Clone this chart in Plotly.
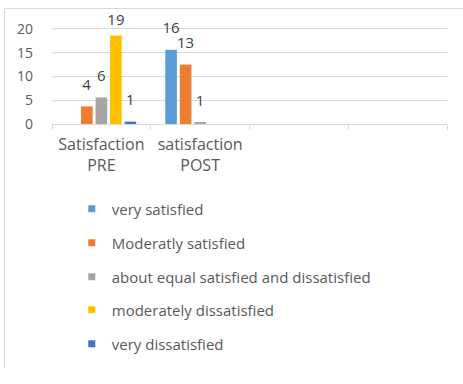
import plotly.graph_objects as go

categories = ["Satisfaction<br>PRE", "satisfaction<br>POST", " ", "  "]
series_names = ["very satisfied", "Moderatly satisfied",
                "about equal satisfied and dissatisfied",
                "moderately dissatisfied", "very dissatisfied"]
series_colors = ["#5B9BD5", "#ED7D31", "#A5A5A5", "#FFC000", "#4472C4"]
# bar heights, per series: [PRE, POST, blank, blank]
values = [
    [None, 15.6, None, None],
    [3.7, 12.5, None, None],
    [5.6, 0.4, None, None],
    [18.6, None, None, None],
    [0.5, None, None, None],
]
# data labels as printed on the chart
labels = [
    ["", "16", "", ""],
    ["4", "13", "", ""],
    ["6", "1", "", ""],
    ["19", "", "", ""],
    ["1", "", "", ""],
]
y_ticks = [0, 5, 10, 15, 20]

LABEL_LIFT = 2.0   # label raised above bar end (data units)
LABEL_CEIL = 19.3  # labels kept inside the chart area, like the original
FONT = "Open Sans"
legend_ids = ["legend", "legend2", "legend3", "legend4", "legend5"]
legend_y = [0.4557, 0.3672, 0.2786, 0.1927, 0.1042]  # container coords

fig = go.Figure()
for i, name in enumerate(series_names):
    fig.add_trace(go.Bar(
        x=categories, y=values[i], name=name,
        marker=dict(color=series_colors[i], line=dict(width=0)),
        offsetgroup=str(i), showlegend=False, hoverinfo="skip",
    ))
    lifted = [None if v is None else min(v + LABEL_LIFT, LABEL_CEIL)
              for v in values[i]]
    fig.add_trace(go.Bar(
        x=categories, y=lifted, name=name + " labels",
        marker=dict(color="rgba(0,0,0,0)", line=dict(width=0)),
        offsetgroup=str(i), showlegend=False, hoverinfo="skip",
        text=labels[i], textposition="outside", cliponaxis=False,
        constraintext="none",
        textfont=dict(family=FONT, size=15, color="#404040"),
    ))
    fig.add_trace(go.Scatter(
        x=[None], y=[None], mode="markers", name=name,
        marker=dict(symbol="square", size=7, color=series_colors[i]),
        legend=legend_ids[i], showlegend=True, hoverinfo="skip",
    ))

legend_layout = {}
for i, lid in enumerate(legend_ids):
    legend_layout[lid] = dict(
        xref="container", yref="container",
        x=0.155, xanchor="left", y=legend_y[i], yanchor="middle",
        font=dict(family=FONT, size=15, color="#595959"),
        bgcolor="rgba(0,0,0,0)", borderwidth=0,
    )

fig.update_layout(
    width=463, height=384,
    margin=dict(l=52, r=16, t=17, b=260, pad=0, autoexpand=False),
    paper_bgcolor="white", plot_bgcolor="white",
    barmode="group", bargap=0.265, bargroupgap=0.2,
    font=dict(family=FONT, size=13, color="#595959"),
    showlegend=True,
    xaxis=dict(
        type="category", categoryorder="array", categoryarray=categories,
        showline=True, linecolor="#D9D9D9", linewidth=1,
        ticks="outside", tickson="boundaries", ticklen=5, tickcolor="#D9D9D9",
        showgrid=False, zeroline=False, automargin=False,
        ticklabelstandoff=6,
        tickfont=dict(family=FONT, size=16, color="#595959"),
    ),
    yaxis=dict(
        range=[0, 22.5], tickvals=y_ticks,
        showgrid=True, gridcolor="#D9D9D9", gridwidth=1,
        zeroline=False, showline=False, ticks="", automargin=False,
        ticklabelstandoff=18,
        tickfont=dict(family=FONT, size=14, color="#595959"),
    ),
    shapes=[
        dict(type="line", xref="paper", yref="paper",
             x0=-0.1203, x1=1.05, y0=1.0794, y1=1.0794,
             line=dict(color="#D9D9D9", width=1)),
        dict(type="line", xref="paper", yref="paper",
             x0=-0.1203, x1=-0.1203, y0=1.0794, y1=-2.28,
             line=dict(color="#D9D9D9", width=1)),
    ],
    **legend_layout,
)

fig.write_html("out.html", config={"displayModeBar": False},
               post_script="document.body.style.margin='0';")
